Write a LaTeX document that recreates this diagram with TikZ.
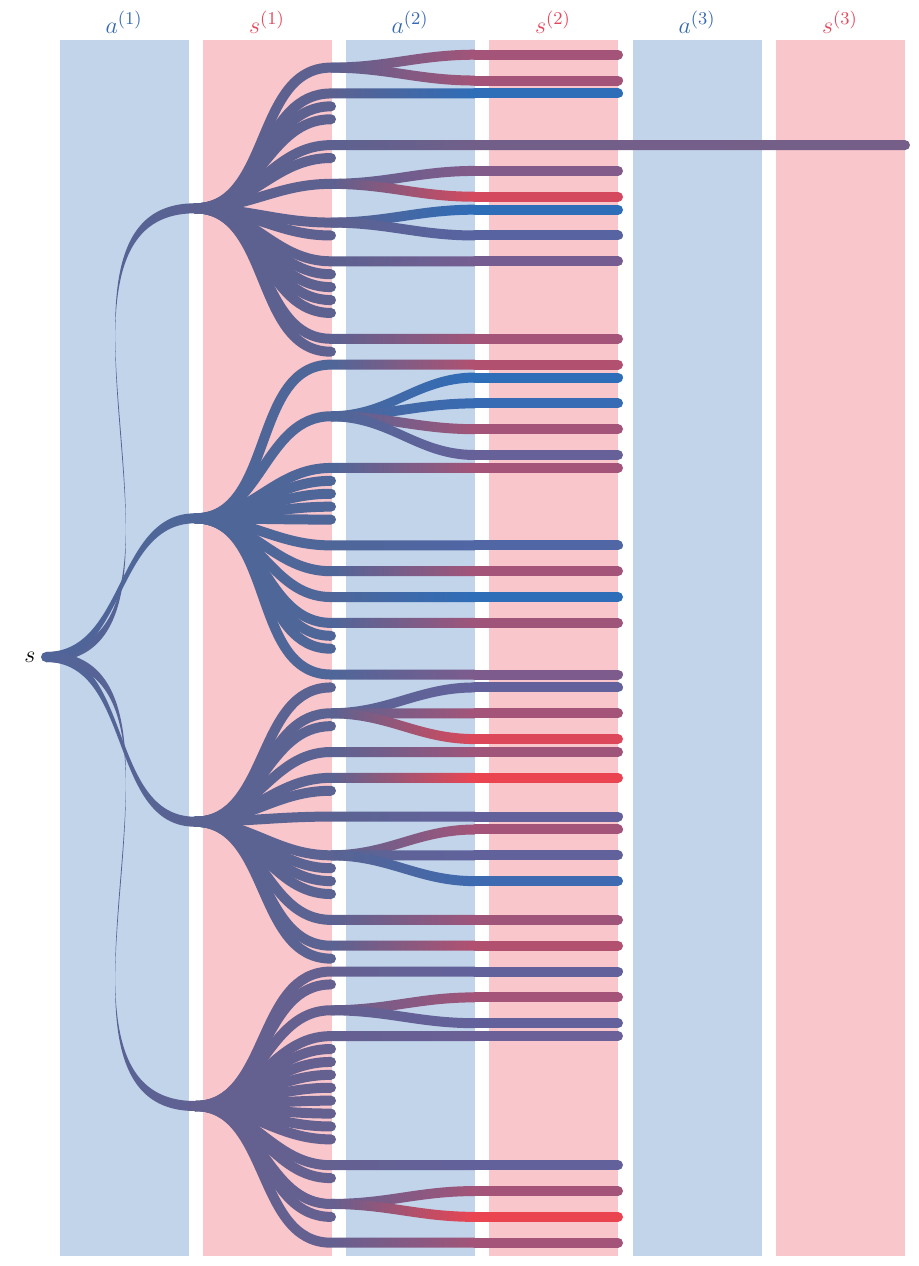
\documentclass[tikz,border=0pt]{standalone}
\usetikzlibrary{calc}
\definecolor{colA}{HTML}{C2D4EA}
\definecolor{colS}{HTML}{F9C6CC}
\definecolor{hiblue}{HTML}{2E6DB8}
\definecolor{hired}{HTML}{EB4451}
\definecolor{actblue}{HTML}{3569B4}
\definecolor{stred}{HTML}{E5475C}
\definecolor{grp0}{HTML}{4F659A}
\definecolor{grp1}{HTML}{5C6190}
\definecolor{grp2}{HTML}{4F6699}
\definecolor{grp3}{HTML}{5A6392}
\definecolor{grp4}{HTML}{646090}
\definecolor{far}{HTML}{755F88}
\newcommand\hw{2.5pt}
\tikzset{twig/.style={line width=5pt},stub/.style={twig,line cap=round}}
% ribbon of constant vertical thickness from #1 to #2, shaded #3 -> #4
\newcommand\flow[4]{\shade[left color=#3,right color=#4] let \p1=(#1),\p2=(#2) in
  (\x1,\y1-\hw) to[out=0,in=180] (\x2,\y2-\hw)
  -- (\x2,\y2+\hw) to[out=180,in=0] (\x1,\y1+\hw) -- cycle;}
\newcommand\row[1]{54.7+12.913*#1}
\begin{document}
\begin{tikzpicture}[x=0.5pt,y=-0.5pt,font=\fontsize{13}{15}\selectfont]
\useasboundingbox (0,0) rectangle (918,1266);
\foreach \i/\x in {1/60,2/346,3/633}{
  \fill[colA] (\x,40) rectangle ++(128.5,1216);
  \fill[colS] (\x+143,40) rectangle ++(128.5,1216);
  \node[text=actblue,anchor=base] (la\i) at (\x+64,33) {$a^{(\i)}$};
  \node[text=stred,anchor=base] (ls\i) at (\x+207,33) {$s^{(\i)}$};
}
\coordinate (s) at (46,657);
\node[anchor=base] (slab) at (30,662) {$s$};
\coordinate (g1) at (195,208.3);
\coordinate (g2) at (195,518.3);
\coordinate (g3) at (195,821.7);
\coordinate (g4) at (195,1106);
\foreach \g in {1,...,4}{\flow{s}{g\g}{grp0}{grp\g}}
\fill[grp0] (s) circle (\hw);
% stubs ending in s(1)
\foreach \k/\g in {4/1,5/1,8/1,14/1,17/1,18/1,19/1,20/1,23/1,33/2,34/2,35/2,36/2,45/2,46/2,
  49/3,52/3,57/3,63/3,64/3,65/3,70/3,72/4,77/4,78/4,79/4,80/4,81/4,82/4,83/4,84/4,87/4,90/4}{
  \coordinate (m\k) at (331,{\row{\k}});
  \draw[stub,grp\g] (g\g) to[out=0,in=180] (m\k);
}
% straight on to s(2)
\foreach \k/\g/\pc in {3/1/0,16/1/38,22/1/62,24/2/70,32/2/62,38/2/18,40/2/62,42/2/0,44/2/60,48/2/42,
  54/3/60,56/3/100,59/3/28,67/3/60,69/3/70,71/4/28,76/4/32,86/4/28,92/4/62}{
  \coordinate (m\k) at (331,{\row{\k}});
  \coordinate (p\k) at (475,{\row{\k}});
  \coordinate (q\k) at (618,{\row{\k}});
  \draw[twig,grp\g] (g\g) to[out=0,in=180] (m\k);
  \flow{m\k}{p\k}{grp\g}{hired!\pc!hiblue}
  \draw[stub,hired!\pc!hiblue] (p\k) -- (q\k);
}
% branching in a(2)
\foreach \nd/\g/\kids in {1/1/{0/62,2/62},10/1/{9/45,11/88},13/1/{12/0,14/22},
  28/2/{25/0,27/5,29/62,31/30},51/3/{49/28,51/62,53/92},62/3/{60/62,62/27,64/8},
  74/4/{73/62,75/28},89/4/{88/62,90/100}}{
  \coordinate (m\nd) at (331,{\row{\nd}});
  \draw[twig,grp\g] (g\g) to[out=0,in=180] (m\nd);
  \foreach \k/\pc in \kids{
    \coordinate (p\k) at (475,{\row{\k}});
    \coordinate (q\k) at (618,{\row{\k}});
    \flow{m\nd}{p\k}{grp\g}{hired!\pc!hiblue}
    \draw[stub,hired!\pc!hiblue] (p\k) -- (q\k);
  }
}
% the one that reaches s(3)
\coordinate (m7) at (331,{\row{7}});
\coordinate (p7) at (475,{\row{7}});
\coordinate (e7) at (905,{\row{7}});
\draw[twig,grp1] (g1) to[out=0,in=180] (m7);
\flow{m7}{p7}{grp1}{far!85!grp1}
\flow{p7}{e7}{far!85!grp1}{far}
\fill[far] (e7) circle (\hw);
\end{tikzpicture}
\end{document}
